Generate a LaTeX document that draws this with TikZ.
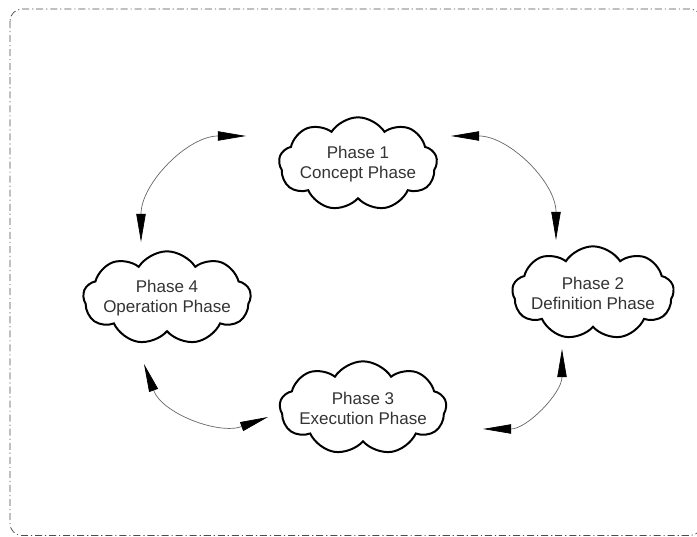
\documentclass[tikz,border=0pt]{standalone}
\usepackage{fontspec}
\setmainfont{Liberation Sans}
\usetikzlibrary{shapes.symbols,arrows.meta}
\begin{document}
\begin{tikzpicture}
		[x=0.03cm,y=0.03cm,
		phase/.style={cloud,cloud puffs=9,cloud puff arc=115,cloud ignores aspect,draw=black,line width=1.7pt,inner sep=-3pt,
			minimum width=4.75cm,minimum height=2.8cm,align=center,text=black!80,font=\fontsize{14.5}{17}\selectfont},
		cycle/.style={draw=black!60,line width=0.6pt,{Triangle[length=24pt,width=8pt,black]}-{Triangle[length=24pt,width=8pt,black]}},
		frame/.style={draw=black!70,line width=0.6pt,rounded corners=0.36cm,dash pattern=on 6pt off 2.5pt on 1pt off 2.5pt},]
		\useasboundingbox(0,0)rectangle(697,537);
		\begin{scope}
			\clip(0,0)rectangle(697,537);
			\draw[frame](10,528)rectangle(702,1.5);
		\end{scope}
		\node[phase](p1)at(358,373){Phase 1\\Concept Phase};
		\node[phase](p2)at(593,244){Phase 2\\Definition Phase};
		\node[phase](p3)at(363,129){Phase 3\\Execution Phase};
		\node[phase](p4)at(167,239){Phase 4\\Operation Phase};
		\coordinate(a1)at(246,401);
		\coordinate(b1)at(141,295);
		\coordinate(a2)at(451,401);
		\coordinate(b2)at(556,297);
		\coordinate(a3)at(562,188);
		\coordinate(b3)at(483,108);
		\coordinate(a4)at(144,173);
		\coordinate(b4)at(268,120);
		\draw[cycle](a1)to[out=180,in=90](b1);
		\draw[cycle](a2)to[out=0,in=90](b2);
		\draw[cycle](a3)to[out=-90,in=0](b3);
		\draw[cycle](a4)to[out=-70,in=200](b4);
	\end{tikzpicture}
\end{document}
